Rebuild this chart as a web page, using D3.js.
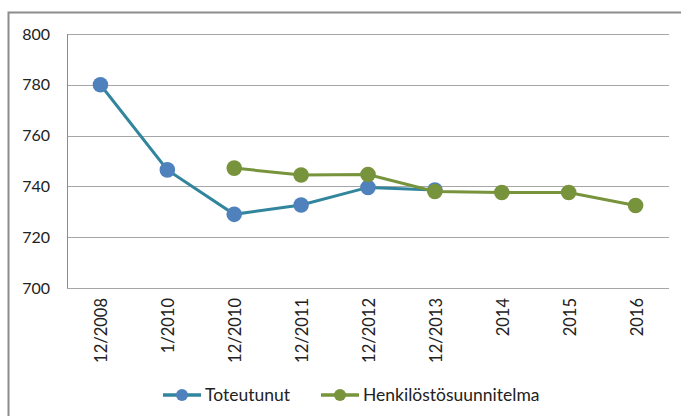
<!DOCTYPE html>
<html>
<head>
<meta charset="utf-8">
<script src="https://cdn.jsdelivr.net/npm/d3@7"></script>
<style>
  body { margin: 0; background: #fff; }
  text { font-family: Lato, "Open Sans", sans-serif; fill: #222; }
</style>
</head>
<body>
<div id="chart"></div>
<script>
// categories and values
var categories = ["12/2008", "1/2010", "12/2010", "12/2011", "12/2012", "12/2013", "2014", "2015", "2016"];
var toteutunut = [780, 746.5, 729, 732.7, 739.6, 738.6, null, null, null];
var suunnitelma = [null, null, 747.2, 744.5, 744.7, 738, 737.6, 737.6, 732.5];
var yTicks = [700, 720, 740, 760, 780, 800];

var width = 681, height = 416;
var svg = d3.select("#chart").append("svg")
    .attr("width", width)
    .attr("height", height);

// outer frame (runs off the picture on right and bottom)
svg.append("rect")
    .attr("x", 8.5).attr("y", 12.5)
    .attr("width", 700).attr("height", 450)
    .attr("fill", "none")
    .attr("stroke", "#8c8c8c")
    .attr("stroke-width", 2);

var x = d3.scaleBand().domain(categories).range([67, 669]);
var y = d3.scaleLinear().domain([700, 800]).range([288, 34]);

// grid lines
svg.append("g")
    .selectAll("line")
    .data(yTicks)
    .enter()
    .append("line")
    .attr("x1", 67).attr("x2", 669)
    .attr("y1", d => Math.round(y(d)) + 0.5)
    .attr("y2", d => Math.round(y(d)) + 0.5)
    .attr("stroke", "#a6a6a6")
    .attr("stroke-width", 1.2);

// left axis line
svg.append("line")
    .attr("x1", 67.5).attr("x2", 67.5)
    .attr("y1", 34).attr("y2", 288)
    .attr("stroke", "#8c8c8c");

// y labels
svg.append("g")
    .selectAll("text")
    .data(yTicks)
    .enter()
    .append("text")
    .attr("x", 50)
    .attr("y", d => y(d) + 5.5)
    .attr("text-anchor", "end")
    .style("font-size", "16px")
    .text(d => d);

// x labels, rotated
svg.append("g")
    .selectAll("text")
    .data(categories)
    .enter()
    .append("text")
    .attr("transform", d => "translate(" + (x(d) + x.bandwidth() / 2 + 7) + ",298) rotate(-90)")
    .attr("text-anchor", "end")
    .style("font-size", "16.5px")
    .text(d => d);

var series = [
    { name: "Toteutunut", values: toteutunut, line: "#31859c", marker: "#4f81bd" },
    { name: "Henkilöstösuunnitelma", values: suunnitelma, line: "#77933c", marker: "#77933c" }
];

var line = d3.line()
    .defined(d => d.v !== null)
    .x(d => x(d.c) + x.bandwidth() / 2)
    .y(d => y(d.v));

series.forEach(function (s) {
    var pts = categories.map((c, i) => ({ c: c, v: s.values[i] }));
    svg.append("path")
        .datum(pts)
        .attr("d", line)
        .attr("fill", "none")
        .attr("stroke", s.line)
        .attr("stroke-width", 3);
    svg.append("g")
        .selectAll("circle")
        .data(pts.filter(d => d.v !== null))
        .enter()
        .append("circle")
        .attr("cx", d => x(d.c) + x.bandwidth() / 2)
        .attr("cy", d => y(d.v))
        .attr("r", 7.8)
        .attr("fill", s.marker);
});

// legend
var legendX = [163, 321];
var legend = svg.selectAll(".legend")
    .data(series)
    .enter()
    .append("g")
    .attr("class", "legend")
    .attr("transform", (d, i) => "translate(" + legendX[i] + ",395)");

legend.append("line")
    .attr("x1", 0).attr("x2", 38)
    .attr("stroke", d => d.line)
    .attr("stroke-width", 3.5);
legend.append("circle")
    .attr("cx", 19).attr("r", 6)
    .attr("fill", d => d.marker);
legend.append("text")
    .attr("x", 42)
    .attr("y", 6)
    .style("font-size", "17.5px")
    .text(d => d.name);
</script>
</body>
</html>
